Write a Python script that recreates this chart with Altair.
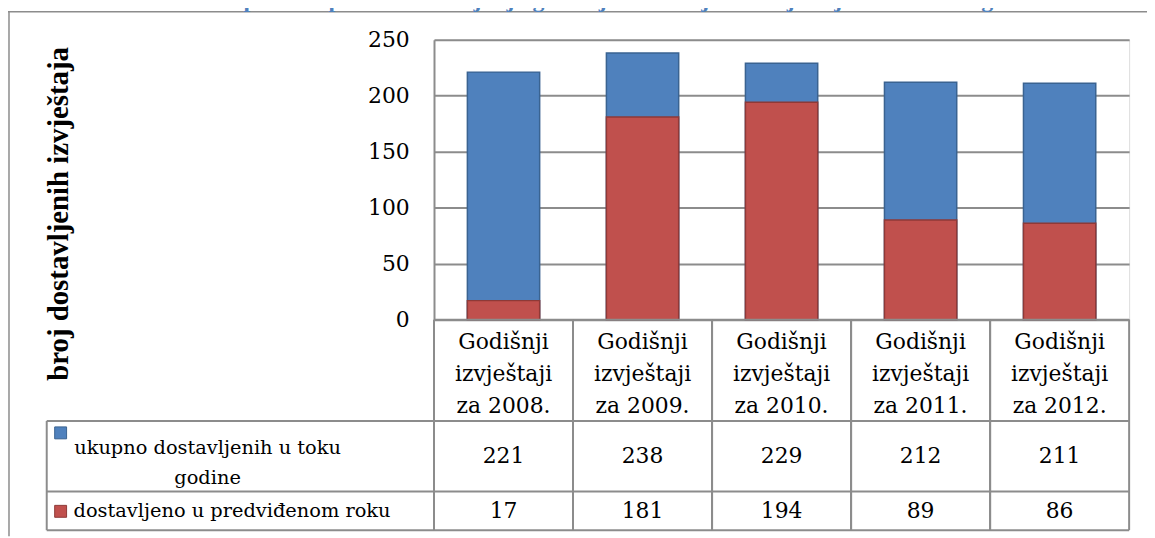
import altair as alt
import pandas as pd

# ---------------- data ----------------
categories = [
    "Godišnji\nizvještaji\nza 2008.",
    "Godišnji\nizvještaji\nza 2009.",
    "Godišnji\nizvještaji\nza 2010.",
    "Godišnji\nizvještaji\nza 2011.",
    "Godišnji\nizvještaji\nza 2012.",
]
total_submitted = [221, 238, 229, 212, 211]
on_time = [17, 181, 194, 89, 86]
series_labels = ["ukupno dostavljenih u toku\ngodine", "dostavljeno u predviđenom roku"]
y_ticks = [0, 50, 100, 150, 200, 250]
chart_title = "Grafik 24: Uporedni prikaz dostavljanja godišnjih finansijskih izvještaja 2009.-2013. godina"
y_title = "broj dostavljenih izvještaja"

df = pd.DataFrame({"cat": categories, "total": total_submitted, "ontime": on_time})
one = pd.DataFrame({"k": [0]})
leg1 = pd.DataFrame({"s": [series_labels[0]]})
leg2 = pd.DataFrame({"s": [series_labels[1]]})

# ---------------- styles ----------------
FONT = "DejaVu Serif"
BOLD_FONT = "Liberation Serif"
FS = 22
LFS = 19.5
BLUE, BLUE_EDGE = "#4F81BD", "#3A6391"
RED, RED_EDGE = "#C0504D", "#8E3937"
GRID = "#8C8C8C"
W, H = 700, 282

xscale = alt.Scale(paddingInner=0, paddingOuter=0)
xenc = alt.X("cat:N", sort=categories, scale=xscale, axis=None)
yaxis = alt.Axis(
    values=y_ticks, ticks=False, labelPadding=25, labelFont=FONT, labelFontSize=FS,
    labelColor="black", gridColor=GRID, gridWidth=2, domainColor=GRID, domainWidth=2,
    title=y_title, titleFont=BOLD_FONT, titleFontSize=29, titleFontWeight="bold",
    titleColor="black", titleAngle=270, titleX=-378, titleY=175,
    titleAlign="center", titleBaseline="middle",
)
yscale = alt.Scale(domain=[0, 250], nice=False)

base = alt.Chart(df)

bars_total = base.mark_bar(
    width=alt.RelativeBandSize(0.52), fill=BLUE, stroke=BLUE_EDGE, strokeWidth=1.5
).encode(x=xenc, y=alt.Y("total:Q", scale=yscale, axis=yaxis))

bars_ontime = base.mark_bar(
    width=alt.RelativeBandSize(0.52), fill=RED, stroke=RED_EDGE, strokeWidth=1.5
).encode(x=xenc, y=alt.Y("ontime:Q", scale=yscale, axis=yaxis))

# table column borders from the band scale
col_left = base.mark_rule(color=GRID, strokeWidth=2).encode(
    x=alt.X("cat:N", sort=categories, scale=xscale, axis=None, bandPosition=0),
    y=alt.value(H), y2=alt.value(494),
)
col_right = base.mark_rule(color=GRID, strokeWidth=2).encode(
    x=alt.X("cat:N", sort=categories, scale=xscale, axis=None, bandPosition=1),
    y=alt.value(H), y2=alt.value(494),
)

def hline(y, x0, x1, color=GRID, sw=2):
    return alt.Chart(one).mark_rule(color=color, strokeWidth=sw).encode(
        x=alt.value(x0), x2=alt.value(x1), y=alt.value(y))

def vline(x, y0, y1, color=GRID, sw=2):
    return alt.Chart(one).mark_rule(color=color, strokeWidth=sw).encode(
        x=alt.value(x), y=alt.value(y0), y2=alt.value(y1))

table_lines = (
    hline(H, 0, W) + hline(384, -390, W) + hline(455, -390, W) + hline(494, -390, W)
    + vline(-390, 384, 494)
)
outer = hline(-28, -429, 718, sw=1.5) + vline(-428, -28, 500, sw=1.5)

cat_text = base.mark_text(
    font=FONT, fontSize=FS, lineBreak="\n", lineHeight=32, baseline="middle", color="black"
).encode(x=xenc, y=alt.value(305), text="cat:N")

tot_text = base.mark_text(font=FONT, fontSize=FS, baseline="middle", color="black").encode(
    x=xenc, y=alt.value(419.5), text="total:Q")
on_text = base.mark_text(font=FONT, fontSize=FS, baseline="middle", color="black").encode(
    x=xenc, y=alt.value(474.5), text="ontime:Q")

sw1 = alt.Chart(one).mark_rect(fill=BLUE, stroke=BLUE_EDGE, strokeWidth=1).encode(
    x=alt.value(-382), x2=alt.value(-370), y=alt.value(390), y2=alt.value(402))
sw2 = alt.Chart(one).mark_rect(fill=RED, stroke=RED_EDGE, strokeWidth=1).encode(
    x=alt.value(-382), x2=alt.value(-370), y=alt.value(469), y2=alt.value(481))

leg_t1 = alt.Chart(leg1).mark_text(
    font=FONT, fontSize=LFS, lineBreak="\n", lineHeight=30, baseline="middle",
    align="center", color="black").encode(x=alt.value(-228), y=alt.value(411), text="s:N")
leg_t2 = alt.Chart(leg2).mark_text(
    font=FONT, fontSize=LFS, baseline="middle", align="left", color="black").encode(
    x=alt.value(-363), y=alt.value(475), text="s:N")

title_t = alt.Chart(one).mark_text(
    font=BOLD_FONT, fontSize=24, fontWeight="bold", color="#4F81BD", align="center",
    baseline="alphabetic", text=chart_title).encode(x=alt.value(149), y=alt.value(-33))

chart = alt.layer(
    bars_total, bars_ontime, table_lines, col_left, col_right, outer,
    cat_text, tot_text, on_text, sw1, sw2, leg_t1, leg_t2, title_t,
).properties(
    width=W, height=H,
    autosize=alt.AutoSizeParams(type="none"),
    padding={"left": 429, "top": 30, "right": 18, "bottom": 218},
).configure_view(fill="#E6E6E6", stroke=None).configure(background="white")

chart.save("out.html", embed_options={"renderer": "svg", "actions": False})
